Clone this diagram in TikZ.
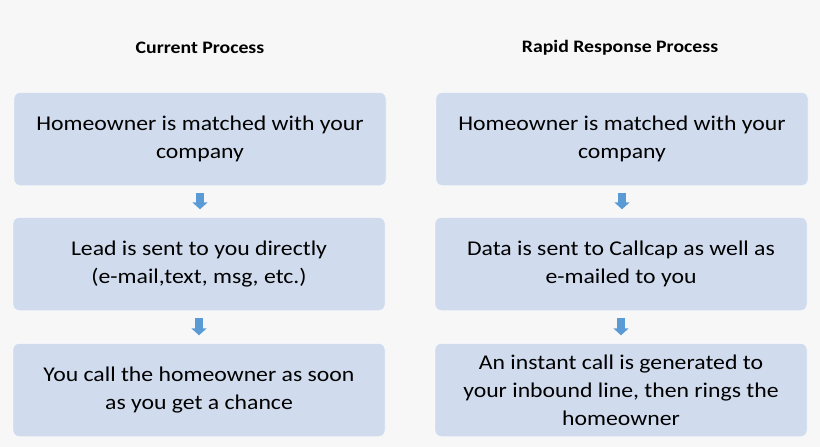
\documentclass[tikz,border=0pt]{standalone}
\usepackage{fontspec}
\setmainfont{Carlito}[FakeStretch=1.13]
\usetikzlibrary{positioning}
\usetikzlibrary{arrows.meta}
\definecolor{boxblue}{HTML}{D0DCEE}
\definecolor{stepblue}{HTML}{5B9BD5}
\definecolor{bgray}{HTML}{F7F7F7}
\tikzset {
  % process box style
  box/.style = {draw=white, fill=boxblue, rounded corners=6pt, minimum width=372pt,
    minimum height=93pt, align=center, font=\fontsize{21}{28}\selectfont},
  % column titles
  title/.style = {font=\bfseries\fontsize{17.5}{20}\selectfont},
  % block arrow between steps
  nextstep/.style = {draw=stepblue, line width=8pt, -{Triangle[width=15pt,length=7pt]},
    shorten <=7pt, shorten >=8pt},
}
\begin{document}
\begin{tikzpicture}[x=1pt, y=-1pt]
      \fill[bgray] (0,0) rectangle (820,447);
      \useasboundingbox (0,0) rectangle (820,447);

      \node[title] (t1) at (200,48) {Current Process};
      \node[title] (t2) at (620,48) {Rapid Response Process};

      \node[box] (a1) at (200,139) {Homeowner is matched with your\\company};
      \node[box] (a2) at (199,264) {Lead is sent to you directly\\(e-mail,text, msg, etc.)};
      \node[box] (a3) at (199,390) {You call the homeowner as soon\\as you get a chance};

      \node[box] (b1) at (622,139) {Homeowner is matched with your\\company};
      \node[box] (b2) at (621,264) {Data is sent to Callcap as well as\\e-mailed to you};
      \node[box] (b3) at (621,390) {An instant call is generated to\\your inbound line, then rings the\\homeowner};

      \draw[nextstep] (a1.south) -- (a1.south|-a2.north);
      \draw[nextstep] (a2.south) -- (a2.south|-a3.north);
      \draw[nextstep] (b1.south) -- (b1.south|-b2.north);
      \draw[nextstep] (b2.south) -- (b2.south|-b3.north);
    \end{tikzpicture}
\end{document}
